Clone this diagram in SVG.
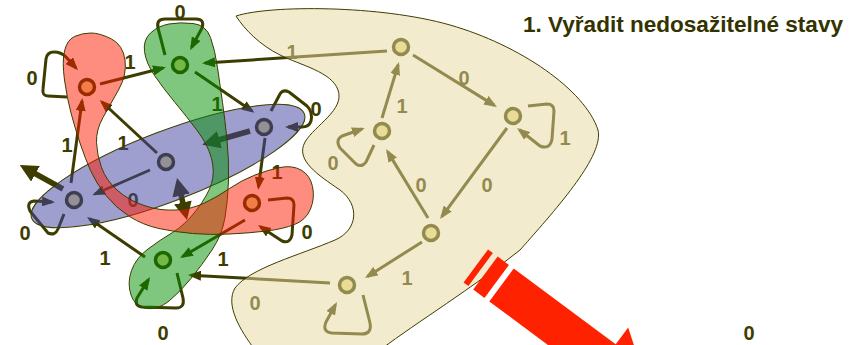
<svg xmlns="http://www.w3.org/2000/svg" width="865" height="345" viewBox="0 0 865 345">
<style>
.e{fill:none;stroke:#3d3d00;stroke-width:3;stroke-linejoin:round}
.tk{fill:none;stroke:#3d3d00;stroke-width:5.5}
.n{fill:#e8e090;stroke:#3d3d00;stroke-width:3.5}
.lb{font-family:'Liberation Sans',Arial,sans-serif;font-weight:bold;font-size:20px;fill:#3d3d00;text-anchor:middle}
.blob{stroke:#3d3d00;stroke-width:1;fill-opacity:0.5}
.ttl{font-family:'Liberation Sans',Arial,sans-serif;font-weight:bold;font-size:22px;fill:#333300}
</style>
<defs>
<marker id="ah" viewBox="0 0 13 10" refX="10" refY="5" markerWidth="13" markerHeight="10" orient="auto" markerUnits="userSpaceOnUse"><path d="M0,0 L13,5 L0,10 Z" fill="#3d3d00"/></marker>
<marker id="ahT" viewBox="0 0 18 18" refX="12" refY="9" markerWidth="18" markerHeight="18" orient="auto-start-reverse" markerUnits="userSpaceOnUse"><path d="M0,0 L18,9 L0,18 Z" fill="#3d3d00"/></marker>
</defs>
<rect width="865" height="345" fill="#ffffff"/>

<g id="connectors">
<path class="e" marker-end="url(#ah)" d="M100,84 L163,68"/>
<path class="e" marker-end="url(#ah)" d="M387,51 L205,63"/>
<path class="e" marker-end="url(#ah)" d="M195,72 L252,111"/>
<path class="e" marker-end="url(#ah)" d="M165,55 L158,28 Q156,19 165,19 L196,19 Q205,19 202,28 L191.5,47.5"/>
<path class="e" marker-end="url(#ah)" d="M67,97 L48,96 Q42,96 43,89 L46,59 Q47,52 54,52 Q61,52 66,57 L76,68"/>
<path class="e" marker-end="url(#ah)" d="M271,111 L280,94 Q283,89 289,92 L307,106 Q313,112 311,121 Q309,127 302,127 L288,127"/>
<path class="tk" marker-end="url(#ahT)" d="M250,131 L208,143"/>
<path class="e" marker-end="url(#ah)" d="M157,153 L102,102"/>
<path class="e" marker-end="url(#ah)" d="M71,183 L82,101"/>
<path class="tk" marker-end="url(#ahT)" d="M63,189 L25,168"/>
<path class="e" marker-end="url(#ah)" d="M150,170 L95,194"/>
<path class="e" marker-end="url(#ah)" d="M64,214 L58,229 Q55,236 48,233 L30,211 Q26,202 34,201 L52,202"/>
<path class="e" marker-end="url(#ah)" d="M265,138 L258.5,187"/>
<path class="tk" marker-start="url(#ahT)" marker-end="url(#ahT)" d="M178.4,183.8 L185.6,214.2"/>
<path class="e" marker-end="url(#ah)" d="M145,257 L89.5,218.7"/>
<path class="e" marker-end="url(#ah)" d="M245,220 L182.6,256.5"/>
<path class="e" marker-end="url(#ah)" d="M268,200 L287,198 Q294,198 294,205 L292,235 Q290,244 282,241 L260.5,226.7"/>
<path class="e" marker-end="url(#ah)" d="M330,283 L191,275.2"/>
<path class="e" marker-end="url(#ah)" d="M177,273 L183,298 Q185,308 176,308 L142,307 Q134,306 137,298 L148.4,279.6"/>
<path class="e" marker-end="url(#ah)" d="M413,55 L494.4,105.4"/>
<path class="e" marker-end="url(#ah)" d="M382,118 L398.1,64.9"/>
<path class="e" marker-end="url(#ah)" d="M528,106 L547,104 Q554,104 554,111 L552,139 Q550,150 540,146 L519.4,129.8"/>
<path class="e" marker-end="url(#ah)" d="M374,145 L366,162 Q362,168 356,164 L340,148 Q335,140 342,136 L362,129"/>
<path class="e" marker-end="url(#ah)" d="M428,218 L387.6,151.6"/>
<path class="e" marker-end="url(#ah)" d="M507,128 L441.8,216.6"/>
<path class="e" marker-end="url(#ah)" d="M422,242 L367.5,276.4"/>
<path class="e" marker-end="url(#ah)" d="M363,295 L370,323 Q372,334 362,334 L332,333 Q322,332 326,322 L335.5,304.6"/>
</g>

<g id="labels">
<text class="lb" x="180" y="19">0</text>
<text class="lb" x="32" y="85">0</text>
<text class="lb" x="130" y="69">1</text>
<text class="lb" x="217" y="111">1</text>
<text class="lb" x="316" y="116">0</text>
<text class="lb" x="67" y="152">1</text>
<text class="lb" x="123" y="150">1</text>
<text class="lb" x="133" y="207">0</text>
<text class="lb" x="277" y="179">1</text>
<text class="lb" x="25" y="240">0</text>
<text class="lb" x="105" y="265">1</text>
<text class="lb" x="223" y="266">1</text>
<text class="lb" x="307" y="239">0</text>
<text class="lb" x="163" y="340">0</text>
<text class="lb" x="255" y="310">0</text>
<text class="lb" x="292" y="59">1</text>
<text class="lb" x="464" y="85">0</text>
<text class="lb" x="402" y="113">1</text>
<text class="lb" x="565" y="145">1</text>
<text class="lb" x="333" y="170">0</text>
<text class="lb" x="421" y="192">0</text>
<text class="lb" x="487" y="192">0</text>
<text class="lb" x="407" y="285">1</text>
</g>

<g id="qA"><circle class="n" cx="87" cy="87" r="7.5"/></g>
<g id="qB"><circle class="n" cx="180" cy="65" r="7.5"/></g>
<g id="qC"><circle class="n" cx="264" cy="127" r="7.5"/></g>
<g id="qD"><circle class="n" cx="166" cy="162" r="7.5"/></g>
<g id="qE"><circle class="n" cx="74" cy="200" r="7.5"/></g>
<g id="qF"><circle class="n" cx="252" cy="203" r="7.5"/></g>
<g id="qG"><circle class="n" cx="163" cy="260" r="7.5"/></g>
<g id="qH"><circle class="n" cx="401" cy="47" r="7.5"/></g>
<g id="qI"><circle class="n" cx="513" cy="116" r="7.5"/></g>
<g id="qJ"><circle class="n" cx="382" cy="131" r="7.5"/></g>
<g id="qK"><circle class="n" cx="431" cy="233" r="7.5"/></g>
<g id="qL"><circle class="n" cx="347" cy="285" r="7.5"/></g>

<g id="regions">
<path id="unreachable" class="blob" fill="#e7d79b" d="M236,16 C270,5 380,5 450,25 C520,45 585,90 598,130 C604,155 560,205 520,250 C470,290 420,320 380,350 L255,350 C240,330 225,305 235,288 C250,268 300,255 335,240 C358,230 360,205 340,190 C318,175 295,160 305,142 C315,125 345,110 338,90 C332,72 300,65 280,55 C260,45 245,30 236,16 Z"/>
<ellipse id="blue" class="blob" fill="#3f3f9f" cx="168" cy="166" rx="146" ry="35" transform="rotate(-21 168 166)"/>
<path id="green" class="blob" fill="#009000" d="M169,24 Q180,22 193,23.5 Q206,25 210.5,37.5 Q215,50 217.5,67.5 Q220,85 222.5,102.5 Q225,120 227,140 Q229,160 228.5,180 Q228,200 225,217.5 Q222,235 212,250 Q202,265 191,278.5 Q180,292 169,301 Q158,310 146.5,308.5 Q135,307 131,295 Q127,283 131.5,270.5 Q136,258 148,249 Q160,240 172.5,232.5 Q185,225 196.5,210 Q208,195 211.5,183.5 Q215,172 211.5,158.5 Q208,145 197.5,131 Q187,117 175,102.5 Q163,88 154.5,75.5 Q146,63 144.5,51.5 Q143,40 150.5,33 Q158,26 169,24 Z"/>
<path id="red" class="blob" fill="#fd1900" d="M91,33 Q100,33 111.5,39 Q123,45 125,60 Q127,75 118.5,90 Q110,105 103,117.5 Q96,130 96.5,142.5 Q97,155 101.5,167.5 Q106,180 117,190 Q128,200 144,205.5 Q160,211 176,210 Q192,209 204.5,203 Q217,197 229.5,188.5 Q242,180 255,175 Q268,170 280,167.5 Q292,165 301,170 Q310,175 312.5,186.5 Q315,198 310.5,209 Q306,220 294.5,224.5 Q283,229 266.5,231 Q250,233 230,234 Q210,235 192.5,233.5 Q175,232 159,228.5 Q143,225 129.5,216.5 Q116,208 106,195.5 Q96,183 90.5,170.5 Q85,158 80,143 Q75,128 71,113 Q67,98 64.5,80 Q62,62 64.5,51 Q67,40 74.5,36.5 Q82,33 91,33 Z"/>
</g>

<g id="bigArrow" transform="translate(501.5,285) rotate(36.6)" fill="#ff2200">
<rect x="-32" y="-20.5" width="6" height="41"/>
<rect x="-20" y="-20.5" width="14" height="41"/>
<rect x="0" y="-20.5" width="129" height="41"/>
<polygon points="127,-41.5 185,0 127,41.5"/>
</g>

<text class="ttl" x="523" y="32" textLength="320" lengthAdjust="spacingAndGlyphs">1. Vyřadit nedosažitelné stavy</text>
<text class="lb" x="749" y="340">0</text>
</svg>
